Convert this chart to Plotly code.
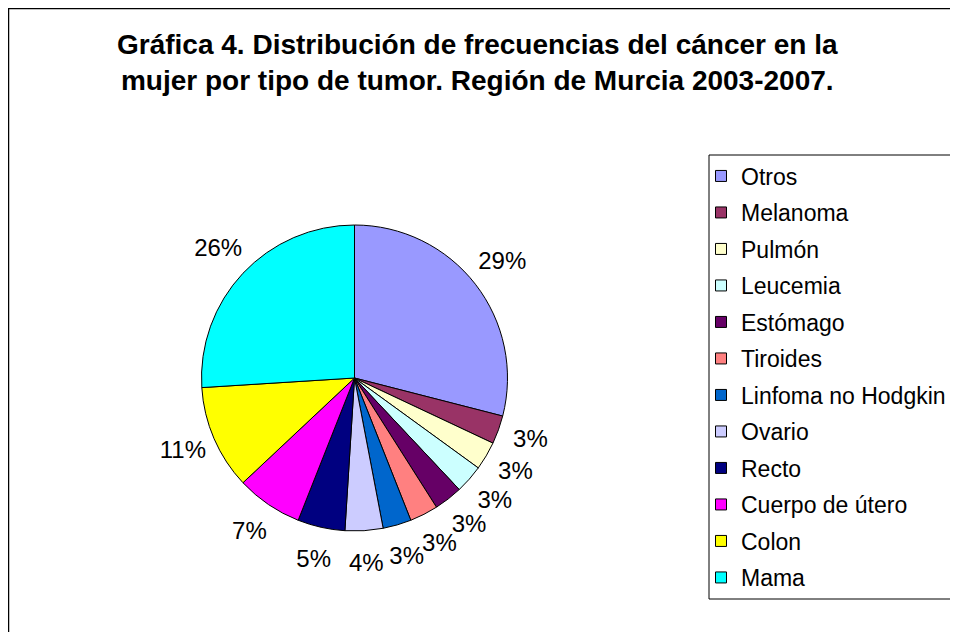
import numpy as np
import plotly.graph_objects as go

labels = ["Otros", "Melanoma", "Pulmón", "Leucemia", "Estómago", "Tiroides",
          "Linfoma no Hodgkin", "Ovario", "Recto", "Cuerpo de útero", "Colon", "Mama"]
values = [29, 3, 3, 3, 3, 3, 3, 4, 5, 7, 11, 26]
colors = ["#9999FF", "#993366", "#FFFFCC", "#CCFFFF", "#660066", "#FF8080",
          "#0066CC", "#CCCCFF", "#000080", "#FF00FF", "#FFFF00", "#00FFFF"]
title_text = ("Gráfica 4. Distribución de frecuencias del cáncer en la<br>"
              "mujer por tipo de tumor. Región de Murcia 2003-2007.")

# page has an 8px body margin; figure sized to fit the window
W, H = 950, 624
cx, cy, r = 346.5, 370, 153      # pie centre / radius in figure pixels
R_pol = 207                      # radius of the invisible polar frame used for labels
r_lab = 187                      # label radius (same units as polar frame: px)


def dom(rad):
    return dict(x=[(cx - rad) / W, (cx + rad) / W],
                y=[1 - (cy + rad) / H, 1 - (cy - rad) / H])


vals = np.array(values, dtype=float)
mid_theta = (np.cumsum(vals) - vals / 2) / vals.sum() * 360.0
pct_text = [f"{round(v / vals.sum() * 100)}%" for v in vals]

fig = go.Figure()
# main pie
fig.add_trace(go.Pie(
    labels=labels, values=values, sort=False, direction="clockwise", rotation=0,
    marker=dict(colors=colors, line=dict(color="black", width=1)),
    textinfo="none", domain=dom(r), showlegend=False, hoverinfo="label+percent",
))
# percentage labels placed outside the pie via an invisible polar frame
fig.add_trace(go.Scatterpolar(
    r=[r_lab] * len(labels), theta=mid_theta, mode="text", text=pct_text,
    textposition="middle center",
    textfont=dict(family="Liberation Sans, Arial", size=24, color="black"),
    showlegend=False, hoverinfo="skip",
))
# legend entries
for lab, col in zip(labels, colors):
    fig.add_trace(go.Scatter(
        x=[None], y=[None], mode="markers", name=lab, legendgroup=lab,
        marker=dict(symbol="square", size=11, color=col, line=dict(color="black", width=1)),
        hoverinfo="skip", showlegend=True,
    ))

fig.update_layout(
    width=W, height=H, margin=dict(l=0, r=0, t=0, b=0),
    paper_bgcolor="white", plot_bgcolor="white",
    font=dict(family="Liberation Sans, Arial", color="black"),
    xaxis=dict(visible=False), yaxis=dict(visible=False),
    polar=dict(domain=dom(R_pol), bgcolor="rgba(0,0,0,0)",
               radialaxis=dict(visible=False, range=[0, R_pol]),
               angularaxis=dict(visible=False, rotation=90, direction="clockwise")),
    showlegend=True,
    legend=dict(x=693 / W, y=1 - 146.5 / H, xanchor="left", yanchor="top",
                font=dict(size=23, color="black"), bgcolor="rgba(0,0,0,0)",
                borderwidth=0, traceorder="grouped", tracegroupgap=3.6),
    annotations=[dict(text="<b>" + title_text + "</b>", x=469 / W, y=1 - 54 / H,
                      xref="paper", yref="paper", xanchor="center", yanchor="middle",
                      showarrow=False, font=dict(size=28, color="black"), align="center")],
    shapes=[
        dict(type="rect", xref="paper", yref="paper", x0=0.5 / W, y0=-0.05, x1=1.05, y1=1 - 0.5 / H,
             line=dict(color="black", width=1.5), layer="below"),
        dict(type="rect", xref="paper", yref="paper", x0=701 / W, y0=1 - 591 / H, x1=1.05, y1=1 - 147 / H,
             line=dict(color="black", width=1), layer="below"),
    ],
)

fig.write_html("out.html")
